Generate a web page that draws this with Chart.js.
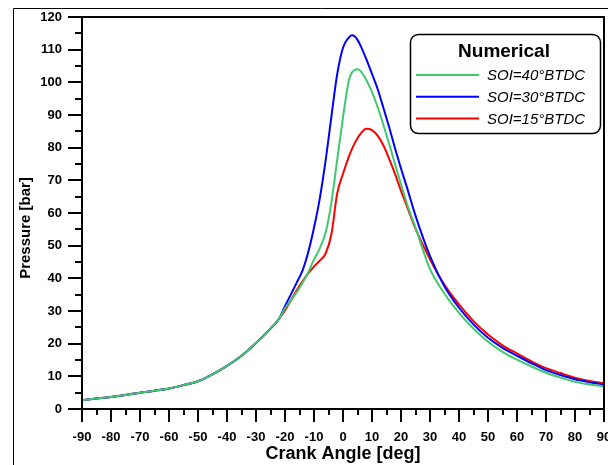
<!DOCTYPE html>
<html>
<head>
<meta charset="utf-8">
<script src="https://cdn.jsdelivr.net/npm/chart.js@4"></script>
<style>
  html, body { margin: 0; padding: 0; background: #fff; overflow: hidden; }
  #wrap { width: 630px; height: 465px; }
</style>
</head>
<body>
<div id="wrap"><canvas id="myChart" width="630" height="465"></canvas></div>
<script>
// crank angle [deg]
const angles = [-90, -85, -80, -75, -70, -65, -60, -55, -50, -45, -40, -35, -30, -25, -22,
  -20, -18, -16, -14, -12, -10, -8, -6, -4, -2, 0, 2, 3, 4, 5, 6, 8, 10, 12, 14, 16, 18, 20, 22,
  25, 30, 35, 40, 45, 50, 55, 60, 65, 70, 75, 80, 85, 90];

// pressure [bar]
const soi40 = [2.7, 3.2, 3.7, 4.3, 5.0, 5.6, 6.3, 7.3, 8.5, 10.6, 13.2, 16.3, 20.2, 24.6, 27.7,
  30.8, 33.2, 35.7, 38.6, 41.8, 45.8, 49.2, 54.0, 63.2, 76.3, 89.3, 100.5, 102.9, 103.8, 104.0, 103.5,
  100.8, 97.0, 92.3, 86.8, 80.9, 74.8, 68.8, 63.0,
  55.5, 42.8, 35.3, 29.4, 24.6, 20.6, 17.5, 15.1, 13.0, 11.1, 9.6, 8.3, 7.5, 6.9];

const soi30 = [2.7, 3.2, 3.7, 4.3, 5.0, 5.6, 6.3, 7.3, 8.5, 10.6, 13.2, 16.3, 20.2, 24.6, 27.7,
  31.5, 35.0, 38.6, 42.3, 48.0, 55.5, 64.5, 76.0, 89.5, 102.5, 110.6, 113.7, 114.4, 114.1, 113.0, 111.3,
  107.2, 102.6, 97.8, 92.0, 86.0, 79.6, 73.6, 68.0,
  59.2, 46.8, 37.5, 31.0, 25.9, 21.8, 18.7, 16.3, 14.0, 11.9, 10.4, 9.1, 8.2, 7.5];

const soi15 = [2.7, 3.2, 3.7, 4.3, 5.0, 5.6, 6.3, 7.3, 8.5, 10.6, 13.2, 16.3, 20.2, 24.6, 27.7,
  30.2, 33.2, 36.3, 39.0, 41.5, 43.6, 45.4, 47.6, 53.5, 66.0, 72.0, 77.2, 79.4, 81.3, 82.9, 84.2,
  85.8, 85.4, 83.6, 80.6, 76.4, 71.8, 66.8, 62.2,
  55.2, 45.8, 38.0, 32.0, 26.9, 22.8, 19.5, 17.0, 14.6, 12.5, 11.0, 9.6, 8.6, 7.9];

const seriesLabels = ['SOI=40°BTDC', 'SOI=30°BTDC', 'SOI=15°BTDC'];
const seriesColors = ['#40c870', '#0000ff', '#ff0000'];
const legendTitle = 'Numerical';
const yTitle = 'Pressure [bar]';

const FONT = "'Liberation Sans', Arial, sans-serif";

function pts(ys) {
  return angles.map((a, i) => ({x: a, y: ys[i]}));
}

// let layout padding alone decide where the plot box sits
function noOverflow(scale) {
  scale.paddingTop = 0;
  scale.paddingBottom = 0;
  scale.paddingLeft = 0;
  scale.paddingRight = 0;
}

// axes frame, tick marks, y title, legend box and outer border
const decor = {
  id: 'decor',
  beforeDraw(chart) {
    const ctx = chart.ctx;
    ctx.save();
    ctx.fillStyle = '#fff';
    ctx.fillRect(0, 0, chart.width, chart.height);
    ctx.strokeStyle = '#000';
    ctx.lineWidth = 1;
    ctx.beginPath();
    ctx.moveTo(13.5, chart.height);
    ctx.lineTo(13.5, 8.5);
    ctx.lineTo(chart.width, 8.5);
    ctx.stroke();
    ctx.restore();
  },
  afterDraw(chart) {
    const {ctx, chartArea: a, scales: {x, y}} = chart;
    ctx.save();
    ctx.strokeStyle = '#000';
    ctx.lineWidth = 2;
    ctx.strokeRect(a.left, a.top, a.right - a.left, a.bottom - a.top);

    const xt = x.ticks.map(t => t.value);
    xt.forEach((v, i) => {
      const px = Math.round(x.getPixelForValue(v));
      ctx.beginPath(); ctx.moveTo(px, a.bottom); ctx.lineTo(px, a.bottom + 13); ctx.stroke();
      if (i < xt.length - 1) {
        const pm = Math.round(x.getPixelForValue((v + xt[i + 1]) / 2));
        ctx.beginPath(); ctx.moveTo(pm, a.bottom); ctx.lineTo(pm, a.bottom + 6); ctx.stroke();
      }
    });
    const yt = y.ticks.map(t => t.value);
    yt.forEach((v, i) => {
      const py = Math.round(y.getPixelForValue(v));
      ctx.beginPath(); ctx.moveTo(a.left, py); ctx.lineTo(a.left - 14, py); ctx.stroke();
      if (i < yt.length - 1) {
        const pm = Math.round(y.getPixelForValue((v + yt[i + 1]) / 2));
        ctx.beginPath(); ctx.moveTo(a.left, pm); ctx.lineTo(a.left - 7, pm); ctx.stroke();
      }
    });

    // y axis title, sits a little below the middle of the axis
    ctx.save();
    ctx.translate(26, 228);
    ctx.rotate(-Math.PI / 2);
    ctx.fillStyle = '#000';
    ctx.font = 'bold 15px ' + FONT;
    ctx.textAlign = 'center';
    ctx.textBaseline = 'middle';
    ctx.fillText(yTitle, 0, 0);
    ctx.restore();

    // legend
    const bx = 410.5, by = 34.5, bw = 190, bh = 99, r = 8;
    ctx.lineWidth = 1.5;
    ctx.beginPath();
    ctx.moveTo(bx + r, by);
    ctx.arcTo(bx + bw, by, bx + bw, by + bh, r);
    ctx.arcTo(bx + bw, by + bh, bx, by + bh, r);
    ctx.arcTo(bx, by + bh, bx, by, r);
    ctx.arcTo(bx, by, bx + bw, by, r);
    ctx.closePath();
    ctx.fillStyle = '#fff';
    ctx.fill();
    ctx.stroke();

    ctx.fillStyle = '#000';
    ctx.textBaseline = 'middle';
    ctx.textAlign = 'center';
    ctx.font = 'bold 19px ' + FONT;
    ctx.fillText(legendTitle, 504, 52);
    ctx.textAlign = 'left';
    ctx.font = 'italic 15px ' + FONT;
    chart.data.datasets.forEach((ds, i) => {
      const ly = 75 + i * 21.7;
      ctx.strokeStyle = ds.borderColor;
      ctx.lineWidth = 2;
      ctx.beginPath(); ctx.moveTo(416, ly); ctx.lineTo(479, ly); ctx.stroke();
      ctx.fillText(ds.label, 487, ly + 1);
    });
    ctx.restore();
  }
};

const data = {
  datasets: [
    {label: seriesLabels[0], data: pts(soi40), borderColor: seriesColors[0]},
    {label: seriesLabels[1], data: pts(soi30), borderColor: seriesColors[1]},
    {label: seriesLabels[2], data: pts(soi15), borderColor: seriesColors[2]}
  ].map(d => Object.assign(d, {
    backgroundColor: d.borderColor,
    borderWidth: 2,
    pointRadius: 0,
    fill: false,
    cubicInterpolationMode: 'monotone'
  }))
};

const config = {
  type: 'line',
  data: data,
  plugins: [decor],
  options: {
    responsive: false,
    animation: false,
    devicePixelRatio: 1,
    layout: {padding: {top: 17, right: 26, bottom: 0, left: 0}},
    plugins: {
      legend: {display: false},
      tooltip: {enabled: false}
    },
    scales: {
      x: {
        type: 'linear',
        min: -90,
        max: 90,
        border: {display: false},
        grid: {display: false, drawTicks: false},
        ticks: {
          stepSize: 10,
          padding: 21,
          color: '#000',
          font: {family: FONT, size: 13, weight: 'bold'}
        },
        title: {
          display: true,
          text: 'Crank Angle [deg]',
          color: '#000',
          padding: {top: 0, bottom: 0},
          font: {family: FONT, size: 18, weight: 'bold'}
        },
        afterFit(scale) { scale.height = 56; noOverflow(scale); }
      },
      y: {
        min: 0,
        max: 120,
        border: {display: false},
        grid: {display: false, drawTicks: false},
        ticks: {
          stepSize: 10,
          padding: 20,
          color: '#000',
          font: {family: FONT, size: 13, weight: 'bold'}
        },
        afterFit(scale) { scale.width = 82; noOverflow(scale); }
      }
    }
  }
};

const myChart = new Chart(document.getElementById('myChart'), config);
</script>
</body>
</html>
